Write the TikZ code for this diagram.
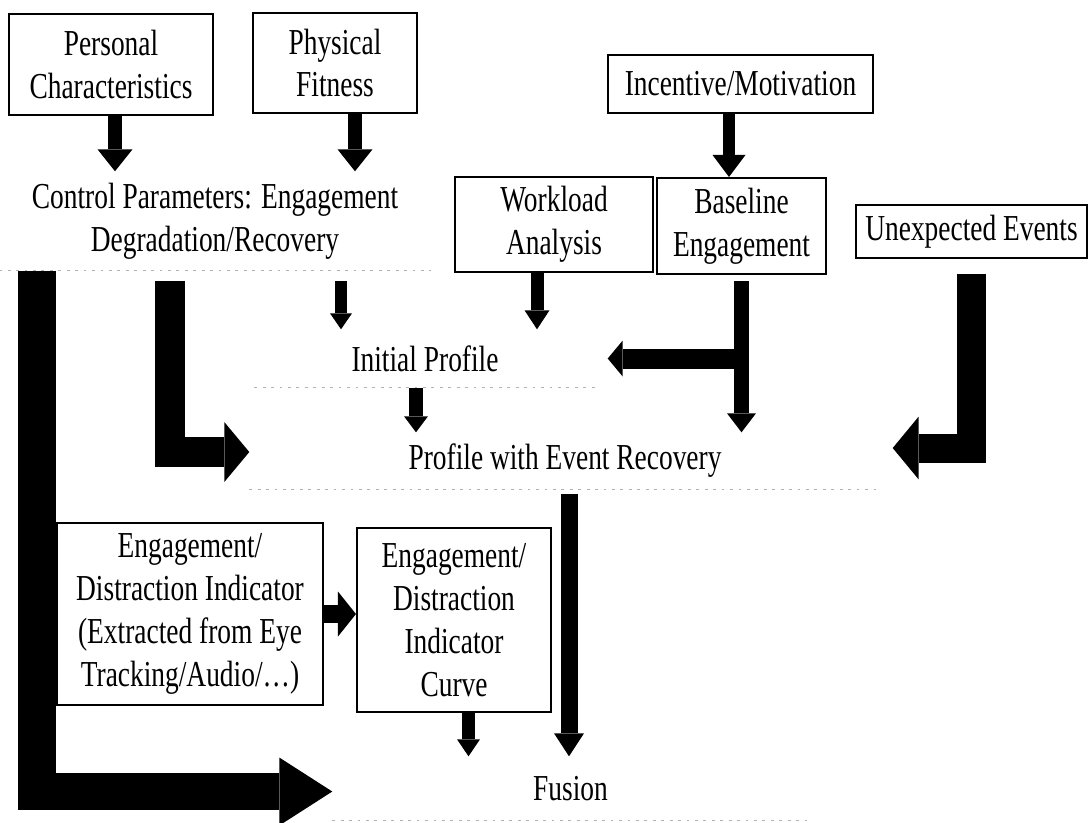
\documentclass[tikz,border=0pt]{standalone}
\usepackage{fontspec}
\setmainfont{Liberation Serif}[FakeStretch=0.75]
\usetikzlibrary{arrows.meta}

\begin{document}
\begin{tikzpicture}[font=\fontsize{10.4}{12.2}\selectfont,
  box/.style={draw, line width=0.6pt, align=center, inner sep=0pt},
  plain/.style={align=center, inner sep=0pt},
  scan/.style={gray!60, line width=0.4pt, dash pattern=on 0.8pt off 1.6pt},
  fat/.style args={#1/#2/#3}{line width=#1, line join=miter, -{Triangle[length=#2,width=#3,line width=0pt]}}]

\useasboundingbox (0,0) rectangle (10.89,-8.22);

% inputs
\node[box, minimum width=2.04cm, minimum height=1.01cm] (pers) at (1.11,-0.645) {Personal\\Characteristics};
\node[box, minimum width=1.64cm, minimum height=1.00cm] (phys) at (3.35,-0.63) {Physical\\Fitness};
\node[box, minimum width=2.65cm, minimum height=0.58cm] (incent) at (7.405,-0.84) {Incentive/Motivation};
\node[box, minimum width=1.98cm, minimum height=0.95cm] (work) at (5.54,-2.245) {Workload\\Analysis};
\node[box, minimum width=1.69cm, minimum height=0.96cm] (base) at (7.415,-2.26) {Baseline\\Engagement};
\node[box, minimum width=2.31cm, minimum height=0.53cm] (unexp) at (9.715,-2.315) {Unexpected Events};

% profiles
\node[plain, minimum width=4.30cm, minimum height=0.98cm] (ctrl) at (2.15,-2.21) {Control Parameters: Engagement\\Degradation/Recovery};
\node[plain, minimum width=3.40cm, minimum height=0.57cm] (init) at (4.25,-3.585) {Initial Profile};
\node[plain, minimum width=6.30cm, minimum height=0.56cm] (prof) at (5.65,-4.61) {Profile with Event Recovery};

% indicator
\node[box, minimum width=2.66cm, minimum height=1.82cm] (indic) at (1.90,-6.14) {Engagement/\\Distraction Indicator\\(Extracted from Eye\\Tracking/Audio/\dots)};
\node[box, minimum width=1.94cm, minimum height=1.84cm] (curve) at (4.54,-6.20) {Engagement/\\Distraction\\Indicator\\Curve};

\node[plain, minimum width=4.75cm, minimum height=0.63cm] (fusion) at (5.705,-7.885) {Fusion};

\foreach \n in {ctrl,init,prof,fusion}
  \draw[scan] (\n.south west) -- (\n.south east);

% arrows
\draw[fat=1.4mm/2.2mm/3.5mm] ([xshift=0.4mm]pers.south) -- ([xshift=0.4mm]pers.south |- ctrl.north);
\draw[fat=1.4mm/2.2mm/3.5mm] ([xshift=2mm]phys.south) -- ([xshift=2mm]phys.south |- ctrl.north);
\draw[fat=1.2mm/2.2mm/3.3mm] ([xshift=-1.15mm]incent.south) -- ([xshift=-1.15mm]incent.south |- base.north);

\draw[fat=1.2mm/1.6mm/2.2mm] ([xshift=-8.4mm,yshift=-1mm]init.north |- ctrl.south) -- ([xshift=-8.4mm]init.north);
\draw[fat=1.3mm/1.9mm/2.5mm] ([xshift=-1.7mm]work.south) -- ([xshift=-1.7mm]work.south |- init.north);
\draw[fat=1.5mm/1.9mm/2.9mm] ([yshift=-0.6mm]base.south) -- (base.south |- prof.north);
\draw[fat=2mm/1.5mm/3.6mm] (base.south |- init.east) -- ([xshift=1.2mm]init.east);
\draw[fat=1.4mm/1.6mm/2.4mm] ([xshift=-0.9mm]init.south) -- ([xshift=-0.9mm]init.south |- prof.north);

\draw[fat=2.9mm/2.6mm/6.3mm] ([yshift=-1.5mm]unexp.south) |- ([xshift=1.2mm,yshift=1.3mm]prof.east);
\draw[fat=3mm/2.5mm/6mm] ([xshift=-4.5mm,yshift=-1mm]ctrl.south) |- ([yshift=0.9mm]prof.west);
\draw[fat=3.7mm/5.3mm/6.8mm] ([xshift=-17.8mm]ctrl.south) |- ([yshift=-0.3mm]fusion.west);

\draw[fat=1.8mm/1.8mm/4.5mm] (indic.east) -- (indic.east -| curve.west);
\draw[fat=1.3mm/1.7mm/2.3mm] ([xshift=1.45mm]curve.south) -- ([xshift=1.45mm]curve.south |- fusion.north);
\draw[fat=1.7mm/2.3mm/3mm] ([xshift=0.4mm,yshift=-0.4mm]prof.south) -- ([xshift=0.4mm]prof.south |- fusion.north);

\end{tikzpicture}
\end{document}
